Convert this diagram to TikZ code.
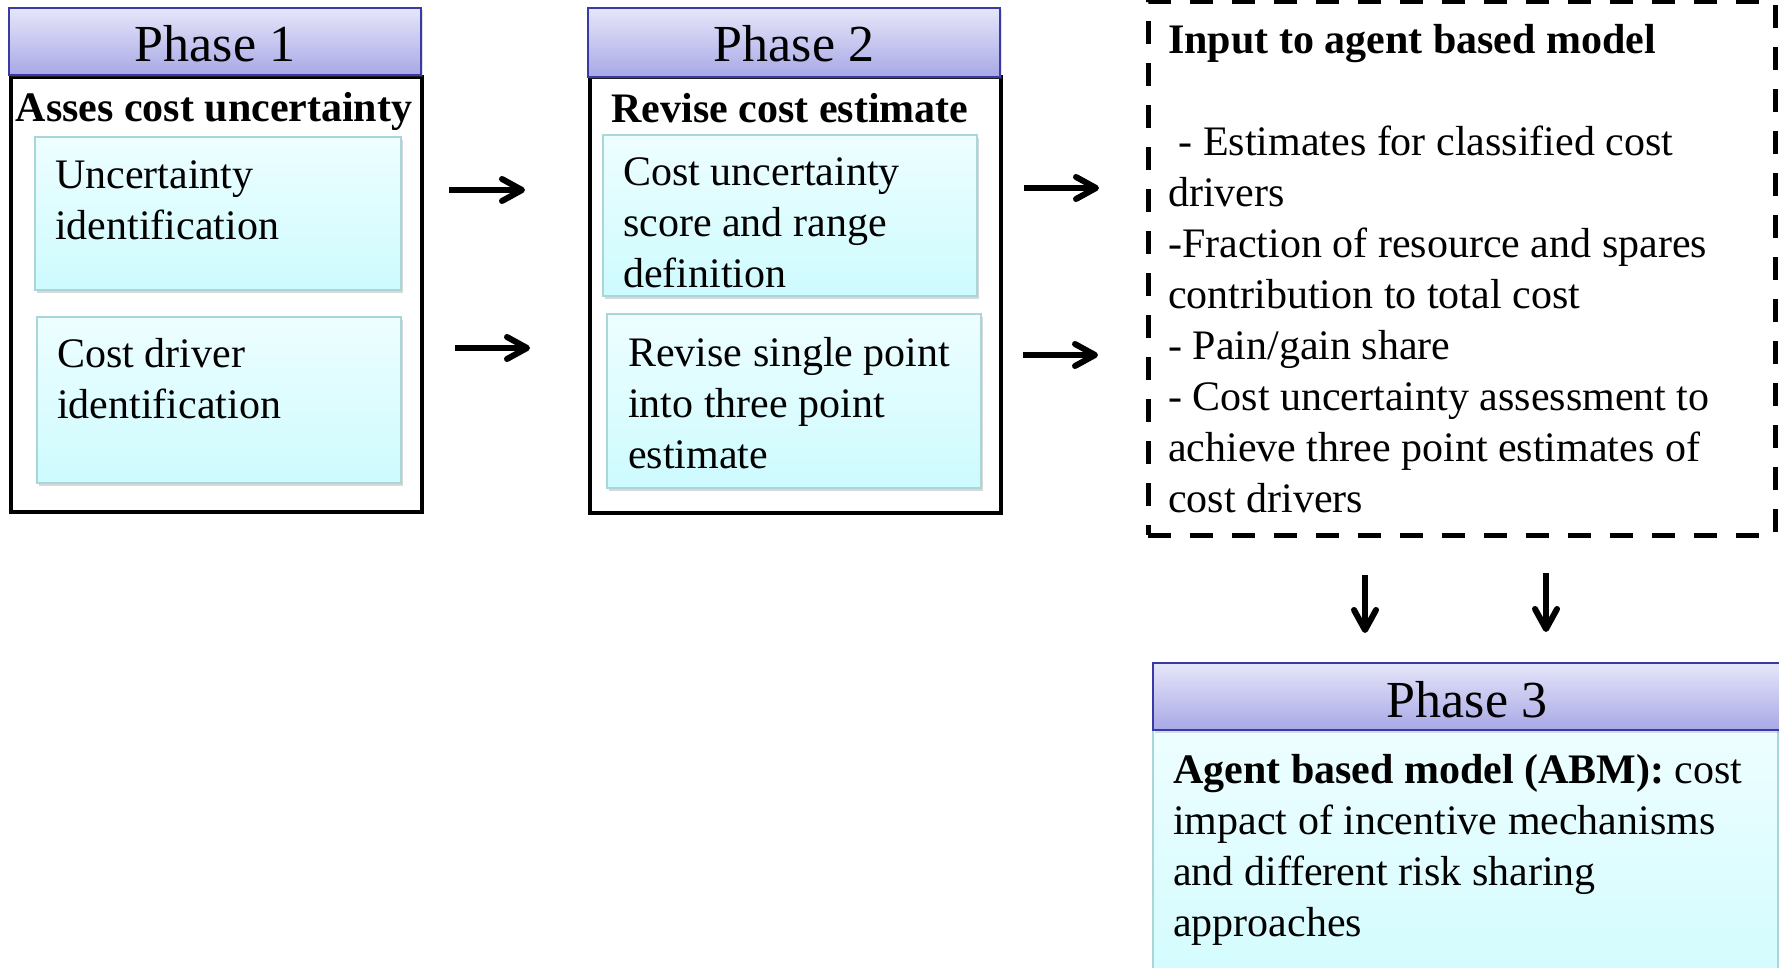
\documentclass[tikz,border=0pt]{standalone}
\usepackage{fontspec}
\setmainfont{Liberation Serif}
\usetikzlibrary{arrows.meta,shadows}

\definecolor{headtop}{HTML}{E6E6FA}
\definecolor{headbot}{HTML}{A8A8E6}
\definecolor{headline}{HTML}{3A3AA6}
\definecolor{celltop}{HTML}{EEFEFF}
\definecolor{cellbot}{HTML}{CDFBFE}
\definecolor{cellline}{HTML}{A9D6D9}

\tikzset{
  box/.style={anchor=north west, inner sep=0pt, outer sep=0pt},
  phasehead/.style={box, draw=headline, line width=1.5pt,
    top color=headtop, bottom color=headbot,
    drop shadow={shadow xshift=1.5pt, shadow yshift=-2.5pt, opacity=0.25}},
  phaseframe/.style={box, draw=black, line width=4pt},
  cell/.style={box, draw=cellline, line width=1.3pt,
    top color=celltop, bottom color=cellbot,
    drop shadow={shadow xshift=2pt, shadow yshift=-3pt, opacity=0.3}},
  inputbox/.style={box, draw=black, line width=5pt, dash pattern=on 23pt off 19pt},
  headtxt/.style={anchor=base, inner sep=0pt, font=\fontsize{52}{62}\selectfont},
  titletxt/.style={anchor=base, inner sep=0pt, font=\fontsize{42}{51}\selectfont\bfseries},
  bodytxt/.style={anchor=north west, inner sep=0pt, align=left,
    font=\fontsize{42}{51}\selectfont},
  flow/.style={line width=6pt, -{Straight Barb[length=20pt, width=22pt, round]}},
}

\begin{document}
\begin{tikzpicture}[x=1pt, y=-1pt]
\useasboundingbox (0,0) rectangle (1779,968);
\clip (0,0) rectangle (1779,968);
\fill[white] (0,0) rectangle (1779,968);

% ---------- Phase 1 ----------
\node[phaseframe, minimum width=411pt, minimum height=435pt] (f1) at (11,77) {};
\node[phasehead, minimum width=412pt, minimum height=67pt] (h1) at (9,8) {};
\node[headtxt] (h1t) at (215,62) {Phase 1};
\node[titletxt] (f1t) at (214,122) {Asses cost uncertainty};
\node[cell, minimum width=366pt, minimum height=153pt] (c1a) at (35,137) {};
\node[cell, minimum width=364pt, minimum height=166pt] (c1b) at (37,317) {};
\node[bodytxt] (c1at) at (55,152.3) {\strut Uncertainty\\identification};
\node[bodytxt] (c1bt) at (57,331.3) {\strut Cost driver\\identification};

% ---------- Phase 2 ----------
\node[phaseframe, minimum width=411pt, minimum height=436pt] (f2) at (590,77) {};
\node[phasehead, minimum width=412pt, minimum height=69pt] (h2) at (588,8) {};
\node[headtxt] (h2t) at (794,62) {Phase 2};
\node[titletxt] (f2t) at (790,123) {Revise cost estimate};
\node[cell, minimum width=374pt, minimum height=161pt] (c2a) at (603,135) {};
\node[cell, minimum width=374pt, minimum height=174pt] (c2b) at (607,314) {};
\node[bodytxt] (c2at) at (623,149.3) {\strut Cost uncertainty\\score and range\\definition};
\node[bodytxt] (c2bt) at (628,330.3) {\strut Revise single point\\into three point\\estimate};

% ---------- Inputs to the agent based model ----------
\node[inputbox, minimum width=627pt, minimum height=533pt] (inp) at (1148,2) {};
\node[bodytxt] (inpt) at (1168,17.3) {\strut\textbf{Input to agent based model}\\
  \strut\\
  \ - Estimates for classified cost\\
  drivers\\
  -Fraction of resource and spares\\
  contribution to total cost\\
  - Pain/gain share\\
  - Cost uncertainty assessment to\\
  achieve three point estimates of\\
  cost drivers};

% ---------- Phase 3 ----------
\node[cell, minimum width=625pt, minimum height=300pt] (c3) at (1153,730) {};
\node[phasehead, minimum width=632pt, minimum height=67pt] (h3) at (1153,663) {};
\node[headtxt] (h3t) at (1467,717) {Phase 3};
\node[bodytxt] (c3t) at (1173,747.3) {\strut\textbf{Agent based model (ABM):} cost\\
  impact of incentive mechanisms\\
  and different risk sharing\\
  approaches};

% ---------- Flow arrows ----------
\coordinate (r1s) at (449,190);  \coordinate (r1e) at (525,190);
\coordinate (r2s) at (455,348);  \coordinate (r2e) at (530,348);
\coordinate (r3s) at (1024,188); \coordinate (r3e) at (1099,188);
\coordinate (r4s) at (1023,355); \coordinate (r4e) at (1098,355);
\coordinate (d1s) at (1365,575); \coordinate (d1e) at (1365,633);
\coordinate (d2s) at (1546,573); \coordinate (d2e) at (1546,632);
\draw[flow] (r1s) -- (r1e);
\draw[flow] (r2s) -- (r2e);
\draw[flow] (r3s) -- (r3e);
\draw[flow] (r4s) -- (r4e);
\draw[flow] (d1s) -- (d1e);
\draw[flow] (d2s) -- (d2e);
\end{tikzpicture}
\end{document}
